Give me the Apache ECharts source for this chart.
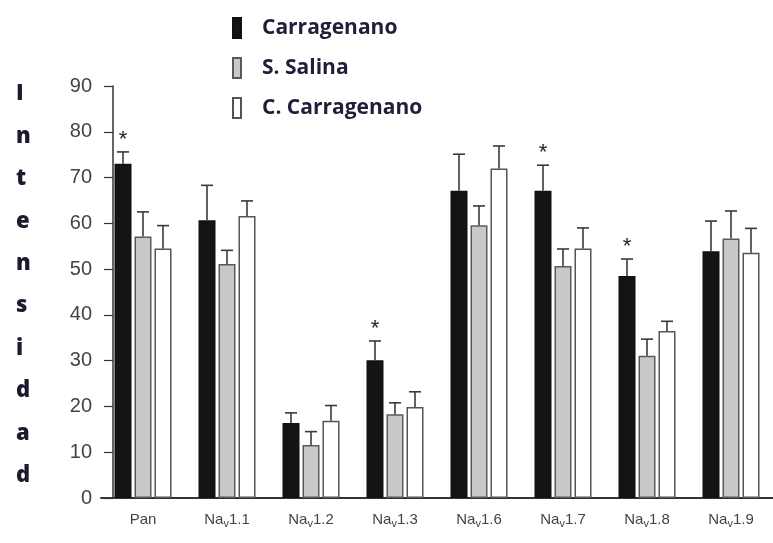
<!DOCTYPE html>
<html>
<head>
<meta charset="utf-8">
<script src="https://cdn.jsdelivr.net/npm/echarts@6/dist/echarts.min.js"></script>
<style>html,body{margin:0;padding:0;background:#fff}#c{width:773px;height:543px}</style>
</head>
<body>
<div id="c"></div>
<script>
const categories = ['Pan', 'Nav1.1', 'Nav1.2', 'Nav1.3', 'Nav1.6', 'Nav1.7', 'Nav1.8', 'Nav1.9'];
const seriesNames = ['Carragenano', 'S. Salina', 'C. Carragenano'];
const carragenano = [73, 60.7, 16.4, 30.1, 67.1, 67.1, 48.5, 53.9];
const carragenanoErr = [2.6, 7.6, 2.2, 4.2, 8.0, 5.6, 3.7, 6.6];
const salina = [57.1, 51.1, 11.6, 18.3, 59.6, 50.7, 31.1, 56.7];
const salinaErr = [5.4, 3.0, 2.9, 2.5, 4.2, 3.7, 3.6, 6.0];
const cCarragenano = [54.5, 61.6, 16.9, 19.9, 72.0, 54.5, 36.5, 53.6];
const cCarragenanoErr = [5.0, 3.3, 3.3, 3.3, 4.9, 4.5, 2.1, 5.3];
const starred = [0, 3, 5, 6]; // categories where Carragenano is marked with *
const yTicks = [0, 10, 20, 30, 40, 50, 60, 70, 80, 90];
const yTitle = 'Intensidad';

const BAR_W = 17, BAR_GAP = 3;
const chart = echarts.init(document.getElementById('c'));

function errSeries(vals, errs, k, stars) {
  return {
    type: 'custom',
    z: 5,
    silent: true,
    encode: { x: 0, y: [1, 2] },
    data: vals.map((v, i) => [i, v, v + errs[i], stars && stars.includes(i) ? 1 : 0]),
    renderItem: function (params, api) {
      const off = (k - 1) * (BAR_W + BAR_GAP);
      const top = api.coord([api.value(0), api.value(2)]);
      const bot = api.coord([api.value(0), api.value(1)]);
      const x = top[0] + off;
      const ls = { stroke: '#3a3a3a', lineWidth: 1.6 };
      const children = [
        { type: 'line', shape: { x1: x, y1: bot[1], x2: x, y2: top[1] }, style: ls },
        { type: 'line', shape: { x1: x - 6, y1: top[1], x2: x + 6, y2: top[1] }, style: ls }
      ];
      if (api.value(3) === 1) {
        children.push({ type: 'text', style: { text: '*', x: x, y: top[1] - 1, align: 'center', verticalAlign: 'bottom', fontSize: 22, fontFamily: 'Liberation Sans, Arial', fill: '#222' } });
      }
      return { type: 'group', children: children };
    }
  };
}

function barSeries(name, vals, color, border) {
  return {
    name: name, type: 'bar', data: vals, barWidth: BAR_W, barGap: (BAR_GAP / BAR_W * 100) + '%',
    itemStyle: { color: color, borderColor: border, borderWidth: 1.5 }
  };
}

chart.setOption({
  animation: false,
  backgroundColor: '#fff',
  legend: {
    data: seriesNames,
    orient: 'vertical', left: 227, top: 12,
    icon: 'rect', itemWidth: 8, itemHeight: 20, itemGap: 18,
    textStyle: { fontSize: 21, fontWeight: 'bold', fontFamily: 'Open Sans', color: '#1f1f3a', padding: [0, 0, 0, 16] }
  },
  grid: { left: 101, right: 0, top: 86, bottom: 45 },
  xAxis: {
    type: 'category', data: categories,
    axisLine: { lineStyle: { color: '#333', width: 2 } },
    axisTick: { show: false },
    axisLabel: {
      interval: 0,
      margin: 13,
      formatter: function (s) {
        return s.indexOf('Nav') === 0 ? '{n|Na}{s|v}{n|' + s.slice(3) + '}' : '{n|' + s + '}';
      },
      rich: {
        n: { fontSize: 15, fontFamily: 'Liberation Sans, Arial', color: '#444', lineHeight: 18 },
        s: { fontSize: 11, fontFamily: 'Liberation Sans, Arial', color: '#444', lineHeight: 10, verticalAlign: 'bottom' }
      }
    }
  },
  yAxis: {
    type: 'value', min: 0, max: 90, interval: 10, offset: -12,
    axisLine: { show: true, lineStyle: { color: '#333', width: 1.5 } },
    axisTick: { show: true, length: 9, lineStyle: { color: '#333', width: 1.2 } },
    splitLine: { show: false },
    axisLabel: {
      margin: 21, fontSize: 20, fontFamily: 'Liberation Sans, Arial', color: '#444',
      formatter: function (v) { return yTicks.includes(v) ? String(v) : ''; }
    }
  },
  graphic: [{
    type: 'text', left: 16, top: 73,
    style: { text: yTitle.split('').join('\n'), fontSize: 22, fontWeight: 800, fontFamily: 'Open Sans', fill: '#1b1b2e', lineHeight: 42.4, align: 'center' }
  }],
  series: [
    barSeries(seriesNames[0], carragenano, '#141414', '#111'),
    barSeries(seriesNames[1], salina, '#c8c8c8', '#5a5a5a'),
    barSeries(seriesNames[2], cCarragenano, '#ffffff', '#555'),
    errSeries(carragenano, carragenanoErr, 0, starred),
    errSeries(salina, salinaErr, 1, null),
    errSeries(cCarragenano, cCarragenanoErr, 2, null)
  ]
});
</script>
</body>
</html>
